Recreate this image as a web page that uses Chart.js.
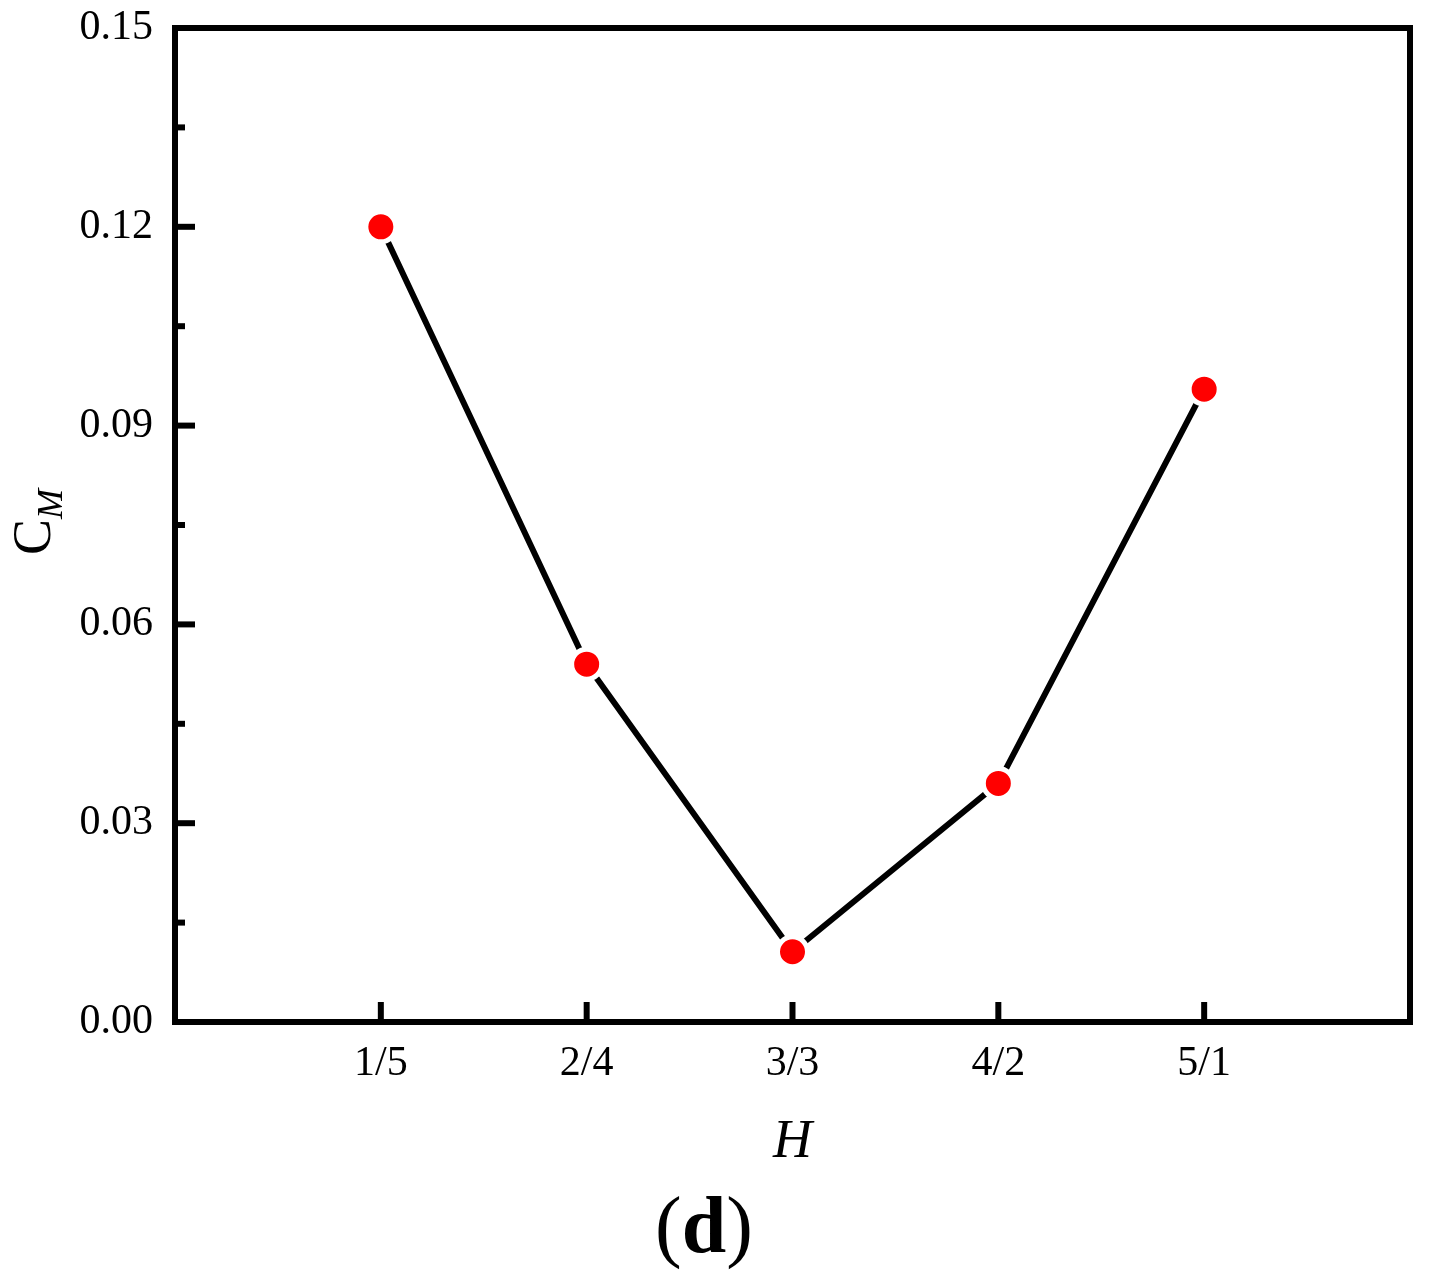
<!DOCTYPE html>
<html>
<head>
<meta charset="utf-8">
<title>C_M vs H</title>
<script src="https://cdn.jsdelivr.net/npm/chart.js@4.4.1/dist/chart.umd.min.js"></script>
<style>
    html, body { margin: 0; padding: 0; background: #fff; }
    #wrap { width: 1432px; height: 1280px; position: relative; }
</style>
</head>
<body>
<div id="wrap"><canvas id="chart" width="1432" height="1280"></canvas></div>
<script>
    "use strict";

    const CATEGORIES = ["1/5", "2/4", "3/3", "4/2", "5/1"];
    const CM_VALUES = [0.1200, 0.0540, 0.0106, 0.0360, 0.0955];
    const Y_MAJOR_TICKS = [0, 0.03, 0.06, 0.09, 0.12, 0.15];

    const FONT = "'Liberation Serif', 'Times New Roman', serif";
    const INK = "#000";

    // frame, inward ticks and axis titles drawn on top of the chart
    const framePlugin = {
        id: "frame",
        afterDraw(chart) {
            const ctx = chart.ctx;
            const a = chart.chartArea;
            const xs = chart.scales.x, ys = chart.scales.y;
            ctx.save();
            ctx.strokeStyle = INK;
            ctx.lineWidth = 6;
            ctx.lineCap = "butt";

            ys.ticks.forEach(t => {
                const py = ys.getPixelForValue(t.value);
                const major = Y_MAJOR_TICKS.some(m => Math.abs(m - t.value) < 1e-9);
                const len = major ? 20 : 10;
                ctx.beginPath();
                ctx.moveTo(a.left, py);
                ctx.lineTo(a.left + len, py);
                ctx.stroke();
            });
            CATEGORIES.forEach((c, i) => {
                const px = xs.getPixelForValue(i + 1);
                ctx.beginPath();
                ctx.moveTo(px, a.bottom);
                ctx.lineTo(px, a.bottom - 20);
                ctx.stroke();
            });
            ctx.lineJoin = "miter";
            ctx.strokeRect(a.left, a.top, a.right - a.left, a.bottom - a.top);

            ctx.fillStyle = INK;
            // x title
            ctx.font = "italic 54px " + FONT;
            ctx.textAlign = "center";
            ctx.textBaseline = "alphabetic";
            ctx.fillText("H", (a.left + a.right) / 2, 1157);

            // panel label
            ctx.font = "80px " + FONT;
            const wp = ctx.measureText("(").width;
            const wq = ctx.measureText(")").width;
            ctx.font = "bold 80px " + FONT;
            const wd = ctx.measureText("d").width;
            let x0 = 704 - (wp + wd + wq) / 2;
            ctx.textAlign = "left";
            ctx.font = "80px " + FONT;
            ctx.fillText("(", x0, 1252);
            ctx.font = "bold 80px " + FONT;
            ctx.fillText("d", x0 + wp, 1252);
            ctx.font = "80px " + FONT;
            ctx.fillText(")", x0 + wp + wd, 1252);

            // y title, rotated: C with italic subscript M
            ctx.translate(50, 522);
            ctx.rotate(-Math.PI / 2);
            ctx.font = "54px " + FONT;
            const wc = ctx.measureText("C").width;
            ctx.font = "italic 36px " + FONT;
            const wm = ctx.measureText("M").width;
            const start = -(wc + wm) / 2;
            ctx.font = "54px " + FONT;
            ctx.fillText("C", start, 0);
            ctx.font = "italic 36px " + FONT;
            ctx.fillText("M", start + wc, 12);
            ctx.restore();
        }
    };

    new Chart(document.getElementById("chart").getContext("2d"), {
        type: "line",
        data: {
            datasets: [{
                label: "C_M",
                data: CM_VALUES.map((v, i) => ({ x: i + 1, y: v })),
                borderColor: INK,
                borderWidth: 6,
                tension: 0,
                pointRadius: 15,
                pointBackgroundColor: "#ff0000",
                pointBorderColor: "#ffffff",
                pointBorderWidth: 5,
                fill: false
            }]
        },
        options: {
            responsive: false,
            animation: false,
            layout: { padding: { left: 0, top: 28, right: 22, bottom: 0 } },
            plugins: { legend: { display: false }, tooltip: { enabled: false } },
            scales: {
                x: {
                    type: "linear",
                    min: 0,
                    max: 6,
                    afterFit(scale) {
                        scale.height = 258;
                        scale.paddingLeft = 0;
                        scale.paddingRight = 0;
                    },
                    grid: { display: false, drawTicks: false },
                    border: { display: false },
                    ticks: {
                        stepSize: 1,
                        padding: 17,
                        color: INK,
                        font: { family: FONT, size: 42 },
                        callback: v => CATEGORIES[v - 1] || ""
                    }
                },
                y: {
                    min: 0,
                    max: 0.15,
                    afterFit(scale) {
                        scale.width = 175;
                        scale.paddingTop = 0;
                        scale.paddingBottom = 0;
                    },
                    grid: { display: false, drawTicks: false },
                    border: { display: false },
                    ticks: {
                        stepSize: 0.015,
                        padding: 22,
                        color: INK,
                        font: { family: FONT, size: 42 },
                        callback: v => Y_MAJOR_TICKS.some(m => Math.abs(m - v) < 1e-9) ? v.toFixed(2) : ""
                    }
                }
            }
        },
        plugins: [framePlugin]
    });
</script>
</body>
</html>
